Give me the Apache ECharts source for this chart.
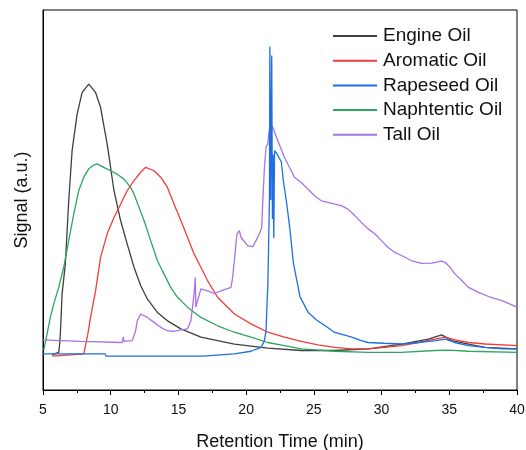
<!DOCTYPE html>
<html>
<head>
<meta charset="utf-8">
<script src="https://cdn.jsdelivr.net/npm/echarts@6/dist/echarts.min.js"></script>
<style>html,body{margin:0;padding:0;background:#fff}#c{width:526px;height:450px}</style>
</head>
<body>
<div id="c"></div>
<script>
const seriesNames = ['Engine Oil', 'Aromatic Oil', 'Rapeseed Oil', 'Naphtentic Oil', 'Tall Oil'];
const xTicks = [5, 10, 15, 20, 25, 30, 35, 40];

const engineOil = [[5.67,9.3],[6.16,9.9],[6.23,12.1],[6.28,14.7],[6.41,25.3],[6.65,33.2],[6.90,49.8],[7.15,63.0],[7.52,72.6],[7.89,78.3],[8.38,80.5],[8.88,78.3],[9.25,74.4],[9.74,64.7],[10.24,52.5],[10.73,44.6],[11.22,38.4],[11.72,32.3],[12.21,27.5],[12.71,23.9],[13.45,20.4],[14.19,18.2],[15.18,16.1],[16.66,13.9],[19.13,12.1],[21.60,11.0],[24.07,10.4],[26.54,10.4],[29.01,10.8],[31.48,12.1],[33.45,13.4],[34.44,14.5],[35.18,13.0],[36.42,12.1],[37.65,11.2],[40.0,10.8]];

const aromaticOil = [[5.67,9.0],[6.0,9.0],[8.01,9.5],[8.31,14.7],[8.51,19.1],[8.88,26.1],[9.25,34.9],[9.74,41.1],[10.24,45.4],[10.73,48.9],[11.22,52.5],[11.72,55.1],[12.21,57.3],[12.58,58.6],[13.20,57.7],[13.69,56.0],[14.19,53.3],[14.68,48.9],[15.18,44.6],[15.67,40.2],[16.16,35.8],[16.66,32.3],[17.15,28.8],[17.89,24.4],[19.13,20.0],[20.36,17.4],[21.60,15.2],[22.83,13.9],[24.07,12.8],[25.30,11.9],[26.54,11.2],[27.77,10.8],[29.01,10.8],[30.24,11.2],[31.48,11.7],[32.71,12.5],[33.95,13.4],[34.69,13.9],[35.43,13.2],[36.42,12.5],[37.65,12.1],[40.0,11.7]];

const rapeseedOil = [[5.0,9.5],[9.6,9.5],[9.65,8.9],[16.8,8.9],[19.13,9.5],[20.36,10.2],[21.1,11.2],[21.35,13.0],[21.47,15.6],[21.55,23.5],[21.6,27.0],[21.65,27.0],[21.72,49.8],[21.75,90.4],[21.8,90.4],[21.82,50.0],[21.84,65.0],[21.89,88.0],[21.94,45.0],[21.99,62.0],[22.04,40.0],[22.1,63.0],[22.3,62.0],[22.6,60.0],[22.75,55.0],[23.0,49.0],[23.24,42.0],[23.49,33.4],[23.98,24.5],[24.6,20.3],[25.2,18.4],[26.0,16.5],[26.5,15.2],[27.0,14.7],[27.8,13.9],[28.5,13.0],[29.0,12.5],[30.2,12.3],[31.5,12.1],[32.7,12.5],[34.0,13.0],[34.7,13.4],[35.4,12.5],[36.4,11.7],[37.6,11.2],[38.9,10.8],[40.0,10.8]];

const naphtenticOil = [[5.05,10.4],[5.30,14.7],[5.54,19.1],[5.79,22.6],[6.16,27.0],[6.53,32.3],[6.90,39.3],[7.27,46.3],[7.64,52.5],[8.01,56.0],[8.38,58.2],[8.75,59.2],[9.00,59.5],[9.49,58.6],[9.99,57.7],[10.48,56.8],[10.98,55.5],[11.47,53.3],[11.72,51.6],[12.09,48.1],[12.46,44.6],[12.95,39.3],[13.45,34.0],[13.94,30.5],[14.43,27.0],[14.93,24.4],[15.67,21.8],[16.66,19.1],[17.89,16.9],[19.13,15.2],[20.36,13.9],[21.60,12.5],[22.83,11.7],[24.07,10.8],[26.54,10.2],[29.01,9.9],[31.48,9.9],[33.95,10.4],[34.93,10.5],[36.42,10.2],[40.0,9.9]];

const tallOil = [[5.0,13.2],[7.77,12.8],[10.85,12.5],[10.93,14.0],[10.98,12.8],[11.59,13.0],[11.84,15.6],[11.96,18.2],[12.21,20.0],[12.71,19.1],[13.20,17.8],[13.69,16.5],[14.19,15.6],[14.68,15.4],[15.18,15.8],[15.67,16.1],[15.92,18.2],[16.04,21.8],[16.16,25.3],[16.24,29.6],[16.29,21.8],[16.41,23.5],[16.66,26.6],[17.15,26.1],[17.65,25.4],[18.14,26.1],[18.88,27.0],[19.0,29.6],[19.13,34.0],[19.32,41.1],[19.50,41.9],[19.62,40.2],[20.11,38.0],[20.49,37.7],[20.73,39.3],[20.98,41.1],[21.15,42.8],[21.23,49.8],[21.35,58.6],[21.47,63.9],[21.60,64.7],[21.67,67.4],[21.79,70.0],[21.97,69.1],[22.34,65.6],[22.83,61.2],[23.33,57.7],[23.57,56.0],[24.07,54.6],[24.56,52.9],[25.05,51.1],[25.55,49.8],[26.04,49.4],[26.54,48.9],[27.03,48.5],[27.52,47.6],[28.02,45.9],[28.51,44.1],[29.01,42.4],[29.50,41.1],[29.99,39.3],[30.49,37.5],[30.98,36.2],[31.48,35.4],[32.22,34.0],[32.96,33.3],[33.70,33.4],[34.44,33.9],[34.69,33.6],[35.06,32.3],[35.43,30.5],[35.92,28.8],[36.42,27.0],[37.16,25.7],[37.90,24.6],[38.89,23.5],[40.0,21.8]];

const seriesData = [engineOil, aromaticOil, rapeseedOil, naphtenticOil, tallOil];
const colors = ['#3f3f3f', '#f53b3b', '#1f6fe3', '#2ea65f', '#a872e8'];

const chart = echarts.init(document.getElementById('c'), null, {renderer: 'canvas'});
const font = '"Liberation Sans", Arial, sans-serif';
chart.setOption({
  animation: false,
  backgroundColor: '#fff',
  grid: {left: 43, right: 9, top: 10, bottom: 60, show: true, borderColor: '#000', borderWidth: 1,
    containLabel: false, outerBoundsMode: 'none'},
  legend: {
    orient: 'vertical', left: 333, top: 26.5, padding: 0,
    icon: 'rect', itemWidth: 44, itemHeight: 2, itemGap: 5.7,
    textStyle: {fontFamily: font, fontSize: 19, lineHeight: 19, color: '#111', padding: [0,0,0,1]},
    data: seriesNames
  },
  xAxis: {
    type: 'value', min: 5, max: 40, interval: 5,
    name: 'Retention Time (min)', nameLocation: 'middle', nameGap: 43,
    nameTextStyle: {fontFamily: font, fontSize: 18, color: '#111'},
    axisLine: {show: true, lineStyle: {color: '#000', width: 1}},
    axisTick: {show: true, length: 5, inside: false, lineStyle: {color: '#000'}},
    minorTick: {show: true, splitNumber: 2, length: 3, lineStyle: {color: '#000'}},
    axisLabel: {fontFamily: font, fontSize: 14, color: '#111', margin: 13,
      formatter: v => xTicks.includes(v) ? String(v) : ''},
    splitLine: {show: false}
  },
  yAxis: {
    type: 'value', min: 0, max: 100,
    name: 'Signal (a.u.)', nameLocation: 'middle', nameGap: 12,
    nameTextStyle: {fontFamily: font, fontSize: 18, color: '#111'},
    axisLine: {show: true, lineStyle: {color: '#000', width: 1}},
    axisTick: {show: false}, axisLabel: {show: false}, splitLine: {show: false}
  },
  series: seriesNames.map((n, i) => ({
    name: n, type: 'line', data: seriesData[i], showSymbol: false, symbol: 'none',
    lineStyle: {color: colors[i], width: 1.3}, itemStyle: {color: colors[i]},
    z: i === 2 ? 3 : 2
  }))
});
</script>
</body>
</html>
